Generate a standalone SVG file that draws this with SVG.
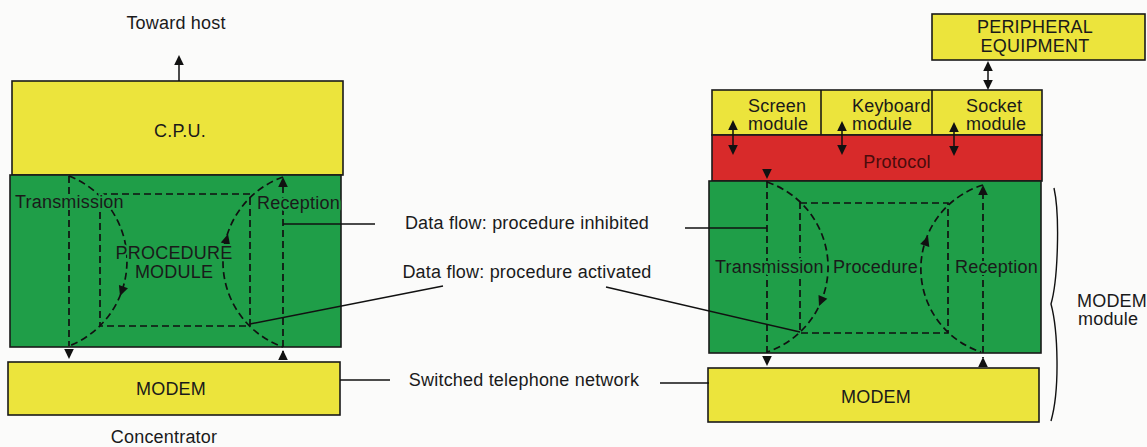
<svg xmlns="http://www.w3.org/2000/svg" xmlns:xlink="http://www.w3.org/1999/xlink" width="1147" height="447" viewBox="0 0 1147 447">
<style>
.bg{fill:#fbfbfa}
.y{fill:#ece43c;stroke:#1a1a1a;stroke-width:1.6}
.g{fill:#1f9e48;stroke:#1a1a1a;stroke-width:1.6}
.r{fill:#d82a2a;stroke:#1a1a1a;stroke-width:1.6}
.t{font-family:"Liberation Sans",Arial,sans-serif;font-size:18px;fill:#1a1a1a;letter-spacing:0.2px}
.tc{text-anchor:middle}
.tg{stroke:#1f9e48;stroke-width:4;paint-order:stroke;stroke-linejoin:round}
.d{fill:none;stroke:#111;stroke-width:1.7;stroke-dasharray:7 4}
.l{fill:none;stroke:#111;stroke-width:1.5}
.ah{fill:#111}
</style>
<defs>
<path id="ah" d="M0,0 L-10,-4.8 L-10,4.8 Z"/>
</defs>
<rect class="bg" x="0" y="0" width="1147" height="447"/>

<g id="left-labels">
<text class="t tc" x="176" y="29">Toward host</text>
<text class="t tc" x="164" y="443">Concentrator</text>
</g>

<g id="cpu">
<rect class="y" x="12" y="81" width="331" height="94"/>
<text class="t tc" x="180" y="137">C.P.U.</text>
</g>

<g id="procedure-module-left">
<rect class="g" x="10" y="175" width="331" height="172"/>
</g>

<g id="modem-left">
<rect class="y" x="8" y="362" width="332" height="53"/>
<text class="t tc" x="171" y="395">MODEM</text>
</g>

<g id="peripheral">
<rect class="y" x="932" y="14" width="213" height="46"/>
<text class="t tc" x="1035" y="33">PERIPHERAL</text>
<text class="t tc" x="1035" y="52">EQUIPMENT</text>
</g>

<g id="modules">
<rect class="y" x="712" y="90" width="330" height="45"/>
<line class="l" x1="821" y1="90" x2="821" y2="135"/>
<line class="l" x1="932" y1="90" x2="932" y2="135"/>
<text class="t" x="748" y="112">Screen</text>
<text class="t" x="748" y="130">module</text>
<text class="t" x="852" y="112">Keyboard</text>
<text class="t" x="852" y="130">module</text>
<text class="t" x="966" y="112">Socket</text>
<text class="t" x="966" y="130">module</text>
</g>

<g id="protocol">
<rect class="r" x="712" y="135" width="330" height="46"/>
<text class="t tc" x="897" y="168" style="fill:#4a0c0c">Protocol</text>
</g>

<g id="procedure-module-right">
<rect class="g" x="709" y="181" width="332" height="172"/>
</g>

<g id="modem-right">
<rect class="y" x="708" y="368" width="331" height="54"/>
<text class="t tc" x="876" y="403">MODEM</text>
</g>

<g id="connectors">
<!-- toward host -->
<line class="l" x1="179" y1="81" x2="179" y2="62"/>
<use class="ah" xlink:href="#ah" transform="translate(179,55) rotate(-90)"/>

<!-- left green flows -->
<line class="d" x1="69" y1="176" x2="69" y2="346"/>
<use class="ah" xlink:href="#ah" transform="translate(69,359) rotate(90)"/>
<rect class="d" x="100" y="194" width="150" height="132"/>
<line class="d" x1="283" y1="186" x2="283" y2="352"/>
<use class="ah" xlink:href="#ah" transform="translate(283,177) rotate(-90)"/>
<use class="ah" xlink:href="#ah" transform="translate(283,350) rotate(-90)"/>
<path class="d" d="M69,176 A91.3,91.3 0 0 1 69,346"/>
<path class="d" d="M283,177 A90.2,90.2 0 0 0 283,347"/>
<use class="ah" xlink:href="#ah" transform="translate(120,296) rotate(110)"/>
<use class="ah" xlink:href="#ah" transform="translate(228,234) rotate(-75)"/>

<!-- right green flows -->
<line class="d" x1="767" y1="181" x2="767" y2="356"/>
<use class="ah" xlink:href="#ah" transform="translate(767,179) rotate(90)"/>
<use class="ah" xlink:href="#ah" transform="translate(767,366) rotate(90)"/>
<rect class="d" x="800" y="203" width="148" height="130"/>
<line class="d" x1="983" y1="192" x2="983" y2="358"/>
<use class="ah" xlink:href="#ah" transform="translate(983,185) rotate(-90)"/>
<use class="ah" xlink:href="#ah" transform="translate(983,357) rotate(-90)"/>
<path class="d" d="M767,182 A89.7,89.7 0 0 1 767,352"/>
<path class="d" d="M983,185 A87.6,87.6 0 0 0 981,352"/>
<use class="ah" xlink:href="#ah" transform="translate(819,306) rotate(113)"/>
<use class="ah" xlink:href="#ah" transform="translate(928,236) rotate(-71)"/>

<!-- peripheral / module double arrows -->
<line class="l" x1="988" y1="68" x2="988" y2="82"/>
<use class="ah" xlink:href="#ah" transform="translate(988,61) rotate(-90)"/>
<use class="ah" xlink:href="#ah" transform="translate(988,90) rotate(90)"/>
<line class="l" x1="733" y1="127" x2="733" y2="148"/>
<use class="ah" xlink:href="#ah" transform="translate(733,120) rotate(-90)"/>
<use class="ah" xlink:href="#ah" transform="translate(733,155) rotate(90)"/>
<line class="l" x1="842" y1="128" x2="842" y2="148"/>
<use class="ah" xlink:href="#ah" transform="translate(842,121) rotate(-90)"/>
<use class="ah" xlink:href="#ah" transform="translate(842,155) rotate(90)"/>
<line class="l" x1="954" y1="129" x2="954" y2="149"/>
<use class="ah" xlink:href="#ah" transform="translate(954,122) rotate(-90)"/>
<use class="ah" xlink:href="#ah" transform="translate(954,156) rotate(90)"/>

<!-- leader lines -->
<path class="l" d="M283,224 H375"/>
<path class="l" d="M685,228 H767"/>
<path class="l" d="M250,324 L443,286"/>
<path class="l" d="M606,287 L800,332"/>
<path class="l" d="M340,380 H390"/>
<path class="l" d="M660,383 H709"/>

<!-- brace -->
<path class="l" style="stroke-width:1.4" d="M1054,188 C1060,215 1058,280 1051,304 C1058,330 1060,390 1051,421"/>
</g>

<g id="green-labels">
<text class="t tg" x="15" y="208">Transmission</text>
<text class="t tg" x="257" y="209">Reception</text>
<text class="t tc tg" x="174" y="259">PROCEDURE</text>
<text class="t tc tg" x="174" y="278">MODULE</text>
<text class="t tg" x="715" y="273">Transmission</text>
<text class="t tg" x="833" y="273">Procedure</text>
<text class="t tg" x="955" y="273">Reception</text>
</g>

<g id="side-labels">
<text class="t tc" x="527" y="229">Data flow: procedure inhibited</text>
<text class="t tc" x="527" y="278">Data flow: procedure activated</text>
<text class="t tc" x="524" y="386">Switched telephone network</text>
<text class="t" x="1077" y="307">MODEM</text>
<text class="t" x="1078" y="325">module</text>
</g>
</svg>
